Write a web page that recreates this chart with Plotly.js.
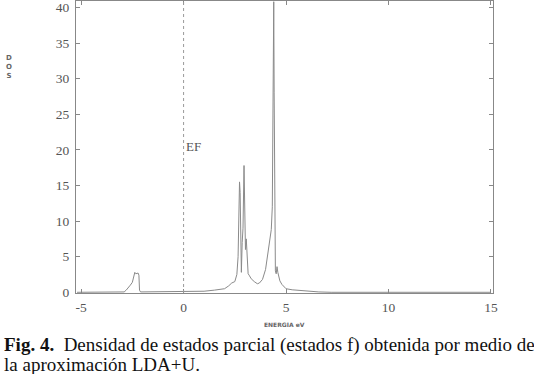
<!DOCTYPE html>
<html><head><meta charset="utf-8">
<script src="https://cdn.plot.ly/plotly-3.0.1.min.js"></script>
<style>html,body{margin:0;padding:0;background:#fff}#chart{width:534px;height:374px}</style>
</head><body><div id="chart"></div>
<script>
const energy = [-5.2,-4,-3.2,-2.9,-2.8,-2.7,-2.6,-2.5,-2.45,-2.38,-2.33,-2.28,-2.22,-2.18,-2.15,-2.1,-1.5,-1,-0.5,0,0.5,1,1.5,2,2.2,2.35,2.5,2.6,2.66,2.7,2.73,2.76,2.79,2.82,2.86,2.9,2.95,2.98,3.02,3.06,3.1,3.15,3.2,3.3,3.45,3.6,3.7,3.85,4.0,4.1,4.2,4.28,4.33,4.37,4.4,4.42,4.45,4.48,4.52,4.56,4.6,4.7,4.8,5.0,5.3,5.7,6.2,6.6,7.2,9,9.6,9.8,10.1,12,15];
const dos    = [0,0,0,0.05,0.3,0.6,1.0,1.4,2.0,2.8,2.6,2.6,2.7,2.4,0.3,0.05,0.05,0.05,0.05,0.1,0.1,0.15,0.3,0.5,0.9,1.3,1.5,2.5,5,12,15.5,14,9,2.8,7,9,17.8,10,6,7.5,4,2.6,2.4,1.9,1.5,1.2,1.3,1.8,3.2,5,6.8,8.8,12,25,40.8,28,10,3,2.6,3.6,2.8,1.6,1.1,0.5,0.35,0.25,0.15,0.05,0,0,0.05,0.05,0,0,0];
const xTicks = [-5,0,5,10,15];
const yTicks = [0,5,10,15,20,25,30,35,40];

const traces = [{
  x: energy, y: dos, type: 'scatter', mode: 'lines',
  line: {color: '#8a8a8a', width: 1}, hoverinfo: 'skip'
}];

const serif = 'Liberation Serif, Times New Roman, serif';
const layout = {
  width: 534, height: 374,
  margin: {l: 76, r: 41, t: 1, b: 81},
  paper_bgcolor: '#fff', plot_bgcolor: '#fff',
  showlegend: false,
  font: {family: serif, color: '#555', size: 13},
  xaxis: {
    range: [-5.25, 15.1], tickvals: xTicks, ticktext: xTicks.map(String),
    showgrid: false, zeroline: false, showline: true, linecolor: '#888', linewidth: 1,
    mirror: 'ticks', ticks: 'inside', ticklen: 4, tickcolor: '#888',
    ticklabelstandoff: 2, ticklabeloverflow: 'allow',
    tickfont: {family: serif, size: 13.5, color: '#555'}
  },
  yaxis: {
    range: [-0.1, 40.9], tickvals: yTicks, ticktext: yTicks.map(String),
    showgrid: false, zeroline: false, showline: true, linecolor: '#888', linewidth: 1,
    mirror: 'ticks', ticks: 'inside', ticklen: 4, tickcolor: '#888',
    ticklabelstandoff: 3, ticklabeloverflow: 'allow',
    tickfont: {family: serif, size: 13.5, color: '#555'}
  },
  shapes: [{
    type: 'line', xref: 'x', yref: 'paper', x0: 0, x1: 0, y0: 0, y1: 1,
    line: {color: '#999', width: 1, dash: 'dot'}
  }],
  annotations: [
    {xref: 'x', yref: 'y', x: 0, y: 20.5, text: 'EF', showarrow: false, xanchor: 'left', yanchor: 'middle',
     font: {family: serif, size: 13, color: '#555'}},
    {xref: 'paper', yref: 'paper', x: 0.5, y: 0, yshift: -26, text: '<b>ENERGIA eV</b>', showarrow: false,
     xanchor: 'center', yanchor: 'top', font: {family: 'DejaVu Sans, sans-serif', size: 6, color: '#666'}},
    {xref: 'paper', yref: 'paper', x: -0.1786, xshift: 7, y: 0.775, text: '<b>D<br>O<br>S</b>', showarrow: false,
     xanchor: 'center', yanchor: 'middle', font: {family: 'DejaVu Sans, sans-serif', size: 7, color: '#666'}},
    {xref: 'paper', yref: 'paper', x: -0.1786, y: 0, yshift: -39, text: '<b>Fig. 4.</b>  Densidad de estados parcial (estados f) obtenida por medio de',
     showarrow: false, xanchor: 'left', yanchor: 'top', align: 'left',
     font: {family: serif, size: 19, color: '#111'}},
    {xref: 'paper', yref: 'paper', x: -0.1786, y: 0, yshift: -59, text: 'la aproximación LDA+U.',
     showarrow: false, xanchor: 'left', yanchor: 'top', align: 'left',
     font: {family: serif, size: 19, color: '#111'}}
  ]
};

Plotly.newPlot('chart', traces, layout, {displayModeBar: false, staticPlot: true});
</script>
</body></html>
